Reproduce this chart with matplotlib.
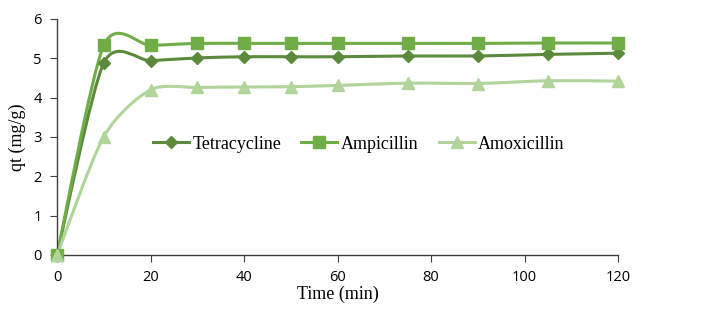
import numpy as np
import matplotlib
matplotlib.use('Agg')
import matplotlib.pyplot as plt
from matplotlib.path import Path
from matplotlib.patches import PathPatch

time_min = [0, 10, 20, 30, 40, 50, 60, 75, 90, 105, 120]
tetracycline = [0, 4.88, 4.94, 5.01, 5.04, 5.04, 5.04, 5.06, 5.06, 5.10, 5.13]
ampicillin = [0, 5.33, 5.33, 5.38, 5.38, 5.38, 5.38, 5.38, 5.38, 5.39, 5.39]
amoxicillin = [0, 3.01, 4.20, 4.26, 4.27, 4.28, 4.31, 4.37, 4.36, 4.43, 4.42]

series = [
    ('Tetracycline', tetracycline, '#5b8a3c', 'D', 6.5),
    ('Ampicillin', ampicillin, '#70ad47', 's', 8.5),
    ('Amoxicillin', amoxicillin, '#b0d49a', '^', 8.5),
]


def smooth_path(x, y, k=0.13):
    # excel-like smoothed line: cubic bezier through every point
    p = np.column_stack([x, y]).astype(float)
    pts = np.vstack([p[0], p, p[-1]])
    verts = [p[0]]
    codes = [Path.MOVETO]
    for i in range(1, len(pts) - 2):
        c1 = pts[i] + (pts[i + 1] - pts[i - 1]) * k
        c2 = pts[i + 1] - (pts[i + 2] - pts[i]) * k
        verts += [c1, c2, pts[i + 1]]
        codes += [Path.CURVE4] * 3
    return Path(verts, codes)


serif = 'Liberation Serif'
sans = 'Open Sans'

fig = plt.figure(figsize=(7.06, 3.22), dpi=100)
ax = fig.add_axes([57 / 706, 67 / 322, 561 / 706, 236 / 322])

for name, vals, col, mk, ms in series:
    ax.add_patch(PathPatch(smooth_path(time_min, vals), facecolor='none',
                           edgecolor=col, linewidth=2.2, zorder=2))
    ax.plot(time_min, vals, linestyle='none', marker=mk, markersize=ms,
            color=col, zorder=3, clip_on=False)
    ax.plot([], [], color=col, linewidth=2.2, marker=mk, markersize=ms, label=name)

ax.set_xlim(0, 120)
ax.set_ylim(0, 6)
ax.set_xticks(range(0, 121, 20))
ax.set_yticks(range(0, 7))
for s in ['top', 'right']:
    ax.spines[s].set_visible(False)
for s in ['left', 'bottom']:
    ax.spines[s].set_color('#404040')
    ax.spines[s].set_linewidth(1.0)
ax.tick_params(direction='out', length=5, width=0.8, color='#404040',
               labelsize=10.5, pad=6)
for lab in ax.get_xticklabels() + ax.get_yticklabels():
    lab.set_fontfamily(sans)
ax.set_xlabel('Time (min)', fontfamily=serif, fontsize=13, labelpad=0)
ax.set_ylabel('qt (mg/g)', fontfamily=serif, fontsize=13, labelpad=5)

leg = ax.legend(loc='center', bbox_to_anchor=(0.538, 0.47), ncol=3,
                frameon=False, prop={'family': serif, 'size': 13},
                handlelength=2.0, columnspacing=1.1, handletextpad=0.2)

fig.savefig('out.png', dpi=100)
